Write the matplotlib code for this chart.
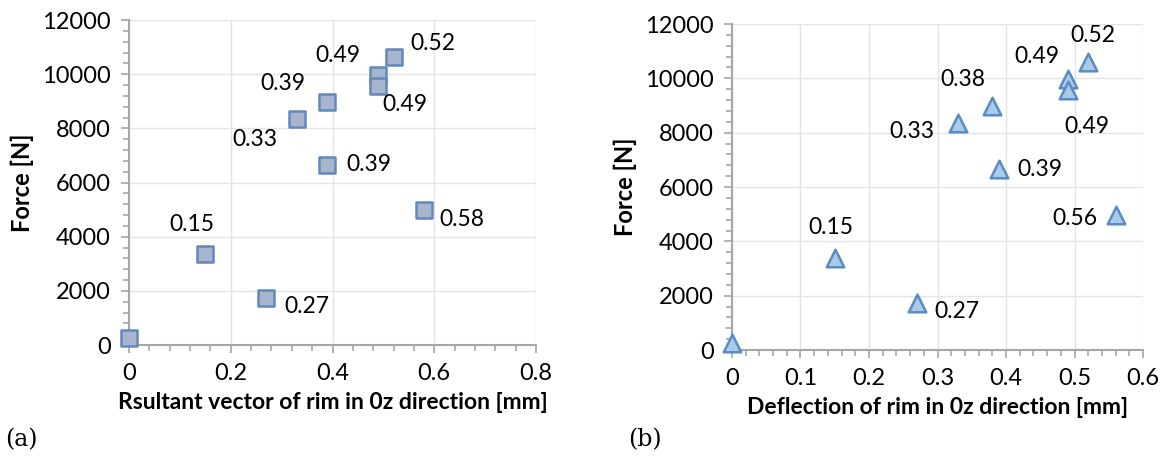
import matplotlib
matplotlib.use('Agg')
import matplotlib.pyplot as plt
from matplotlib.ticker import MultipleLocator

plt.rcParams['font.family'] = ['Lato', 'DejaVu Sans']

# panel (a): resultant vector
xa = [0, 0.15, 0.27, 0.33, 0.39, 0.39, 0.49, 0.49, 0.52, 0.58]
# panel (b): deflection
xb = [0, 0.15, 0.27, 0.33, 0.38, 0.39, 0.49, 0.49, 0.52, 0.56]
force = [250, 3380, 1740, 8350, 8980, 6650, 9980, 9560, 10620, 4980]

labels_a = ['', '0.15', '0.27', '0.33', '0.39', '0.39', '0.49', '0.49', '0.52', '0.58']
labels_b = ['', '0.15', '0.27', '0.33', '0.38', '0.39', '0.49', '0.49', '0.52', '0.56']

# label offsets in points (dx, dy)
offs_a = [(0, 0), (-10, 21), (29, -6), (-30, -15), (-32, 13), (30, 0),
          (-29, 14), (19, -13), (28, 10), (27, -7)]
offs_b = [(0, 0), (-3, 22), (29, -6), (-33, -6), (-21, 19), (29, 0),
          (-22, 16), (14, -26), (3, 19), (-29, -3)]

fig = plt.figure(figsize=(11.76, 4.68), dpi=100)
ax1 = fig.add_axes([0.1097, 0.2628, 0.3461, 0.6942])
ax2 = fig.add_axes([0.6224, 0.252, 0.3496, 0.6967])


def style(ax, xmax, xmaj, xmin_step, xlabel):
    ax.set_xlim(0, xmax)
    ax.set_ylim(0, 12000)
    ax.xaxis.set_major_locator(MultipleLocator(xmaj))
    ax.xaxis.set_minor_locator(MultipleLocator(xmin_step))
    ax.yaxis.set_major_locator(MultipleLocator(2000))
    ax.yaxis.set_minor_locator(MultipleLocator(400))
    ax.grid(True, which='major', color='#e4e4e4', lw=1)
    ax.set_axisbelow(True)
    for s in ['top', 'right']:
        ax.spines[s].set_visible(False)
    for s in ['left', 'bottom']:
        ax.spines[s].set_color('#a6a6a6')
        ax.spines[s].set_linewidth(1.5)
    ax.tick_params(which='major', length=6, width=1.2, color='#a6a6a6',
                   labelsize=17, pad=7)
    ax.tick_params(which='minor', length=4, width=1.2, color='#a6a6a6')
    ax.set_xlabel(xlabel, fontsize=16.5, fontweight='bold', labelpad=6)
    ax.set_ylabel('Force [N]', fontsize=17, fontweight='bold', labelpad=6)
    ax.xaxis.set_major_formatter(plt.FuncFormatter(lambda v, p: '%g' % round(v, 2)))


style(ax1, 0.8, 0.2, 0.04, 'Rsultant vector of rim in 0z direction [mm]')
style(ax2, 0.6, 0.1, 0.02, 'Deflection of rim in 0z direction [mm]')

ax1.scatter(xa, force, marker='s', s=140, facecolor='#a8b6cd',
            edgecolor='#6189bb', linewidth=1.8, zorder=3, clip_on=False)
ax2.scatter(xb, force, marker='^', s=160, facecolor='#a9cbea',
            edgecolor='#5a8cc2', linewidth=1.8, zorder=3, clip_on=False)

for x, y, t, o in zip(xa, force, labels_a, offs_a):
    if t:
        ax1.annotate(t, (x, y), xytext=o, textcoords='offset points',
                     ha='center', va='center', fontsize=16.5)
for x, y, t, o in zip(xb, force, labels_b, offs_b):
    if t:
        ax2.annotate(t, (x, y), xytext=o, textcoords='offset points',
                     ha='center', va='center', fontsize=16.5)

fig.text(0.004, 0.06, '(a)', fontsize=17, family='DejaVu Serif', va='center')
fig.text(0.534, 0.06, '(b)', fontsize=17, family='DejaVu Serif', va='center')

fig.savefig('out.png', dpi=100)
